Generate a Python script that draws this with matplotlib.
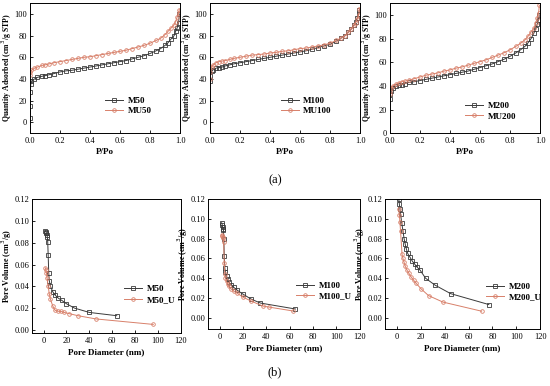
import matplotlib.pyplot as plt

plt.rcParams['font.family'] = ['Liberation Serif', 'DejaVu Serif']

# --- isotherms (P/Po vs quantity adsorbed) ---
p_m50 = [0.0005, 0.001, 0.002, 0.005, 0.01, 0.03, 0.05, 0.08, 0.1, 0.13, 0.16, 0.2, 0.24, 0.28,
         0.32, 0.36, 0.4, 0.44, 0.48, 0.52, 0.56, 0.6, 0.64, 0.68, 0.72, 0.76, 0.8, 0.84, 0.87,
         0.9, 0.92, 0.94, 0.96, 0.97, 0.98, 0.99, 0.995]
q_m50 = [4, 15, 28, 35, 38, 40, 41.5, 42.5, 43, 44, 45, 46.5, 47.5, 48, 49, 50, 51, 52, 53, 54,
         55, 56, 57, 58.5, 60, 61.5, 63.5, 66, 68, 71, 73.5, 77, 80, 84, 87, 92, 100]
p_mu50 = [0.0005, 0.002, 0.01, 0.03, 0.05, 0.08, 0.1, 0.13, 0.16, 0.2, 0.24, 0.28, 0.32, 0.36,
          0.4, 0.44, 0.48, 0.52, 0.56, 0.6, 0.64, 0.68, 0.72, 0.76, 0.8, 0.84, 0.87, 0.9, 0.92,
          0.94, 0.96, 0.97, 0.98, 0.99, 0.995]
q_mu50 = [44, 46, 48, 50, 51, 52.5, 53, 54, 55, 56, 57, 58, 59, 60, 60.5, 61.5, 62.5, 63.5, 64.5,
          65.5, 66.5, 68, 69.5, 71, 73, 75.5, 77.5, 81, 84, 87, 90, 93, 97, 101, 104]

p_m100 = [0.0005, 0.002, 0.01, 0.02, 0.04, 0.06, 0.08, 0.1, 0.13, 0.16, 0.2, 0.24, 0.28, 0.32,
          0.36, 0.4, 0.44, 0.48, 0.52, 0.56, 0.6, 0.64, 0.68, 0.72, 0.76, 0.8, 0.84, 0.87, 0.9,
          0.92, 0.94, 0.96, 0.97, 0.98, 0.99, 0.995]
q_m100 = [38, 43, 47, 48.5, 50, 50.5, 51, 52, 53, 54, 55, 56, 57, 58, 59, 60, 61, 62, 63, 64,
          65, 66, 67.5, 69, 70.5, 72, 75, 77.5, 80, 83, 86, 90, 93, 96, 100, 104]
p_mu100 = [0.0005, 0.002, 0.01, 0.02, 0.04, 0.06, 0.08, 0.1, 0.13, 0.16, 0.2, 0.24, 0.28, 0.32,
           0.36, 0.4, 0.44, 0.48, 0.52, 0.56, 0.6, 0.64, 0.68, 0.72, 0.76, 0.8, 0.84, 0.87, 0.9,
           0.92, 0.94, 0.96, 0.97, 0.98, 0.99, 0.995]
q_mu100 = [40, 46, 51, 53, 55, 56, 56.5, 57, 58, 59, 60, 61, 62, 62.5, 63, 64, 64.5, 65.5, 66,
           67, 68, 68.5, 69.5, 70.5, 71.5, 73, 75.5, 77.5, 80, 83, 86, 89.5, 92, 95, 99, 105]

p_m200 = [0.0005, 0.002, 0.01, 0.02, 0.04, 0.06, 0.08, 0.1, 0.13, 0.16, 0.2, 0.24, 0.28, 0.32,
          0.36, 0.4, 0.44, 0.48, 0.52, 0.56, 0.6, 0.64, 0.68, 0.72, 0.76, 0.8, 0.84, 0.87, 0.9,
          0.92, 0.94, 0.96, 0.97, 0.98, 0.99, 0.995]
q_m200 = [29, 33, 36, 38, 39.5, 40.5, 41, 42, 43, 43.5, 44.5, 45.5, 46.5, 47.5, 48.5, 49.5, 50.5,
          51.5, 52.5, 54, 55.5, 57, 58.5, 60.5, 62.5, 65, 68, 70.5, 73.5, 76.5, 80, 85, 88, 92,
          96, 100]
p_mu200 = [0.0005, 0.002, 0.01, 0.02, 0.04, 0.06, 0.08, 0.1, 0.13, 0.16, 0.2, 0.24, 0.28, 0.32,
           0.36, 0.4, 0.44, 0.48, 0.52, 0.56, 0.6, 0.64, 0.68, 0.72, 0.76, 0.8, 0.84, 0.87, 0.9,
           0.92, 0.94, 0.96, 0.97, 0.98, 0.99, 0.995]
q_mu200 = [33, 36, 38.5, 40, 41.5, 42.5, 43.5, 44, 45, 46, 47.5, 49, 50, 51, 52.5, 53.5, 55,
           56, 57.5, 59, 60.5, 62, 64, 66, 68, 70.5, 73.5, 76, 79, 82, 85.5, 89, 93, 97, 102, 108]

# --- pore size distributions (diameter nm vs pore volume) ---
d_m50 = [1.5, 2, 2.5, 3, 3.3, 3.6, 4, 4.5, 5, 6, 8, 10, 13, 16, 20, 27, 40, 64]
v_m50 = [0.091, 0.090, 0.089, 0.087, 0.085, 0.081, 0.069, 0.052, 0.045, 0.040, 0.035, 0.032,
         0.029, 0.027, 0.024, 0.020, 0.016, 0.013]
d_m50u = [1.5, 2, 2.5, 3, 4, 5, 6, 8, 10, 13, 15, 18, 22, 30, 46, 96]
v_m50u = [0.057, 0.055, 0.052, 0.048, 0.040, 0.033, 0.028, 0.022, 0.018, 0.017, 0.017, 0.016,
          0.015, 0.013, 0.010, 0.005]

d_m100 = [1.8, 2.2, 2.6, 3, 3.3, 3.6, 4, 4.5, 5, 6, 7, 8, 10, 12, 15, 20, 27, 35, 65]
v_m100 = [0.096, 0.094, 0.092, 0.090, 0.089, 0.080, 0.062, 0.050, 0.046, 0.042, 0.039, 0.036,
          0.033, 0.031, 0.028, 0.024, 0.019, 0.015, 0.009]
d_m100u = [1.8, 2.2, 2.6, 3, 3.5, 4, 4.5, 5, 6, 7, 8, 10, 12, 15, 20, 27, 37, 42, 63]
v_m100u = [0.084, 0.083, 0.082, 0.081, 0.076, 0.055, 0.044, 0.040, 0.037, 0.034, 0.032, 0.029,
           0.027, 0.025, 0.021, 0.017, 0.012, 0.011, 0.007]

d_m200 = [1.5, 2, 2.5, 3, 4, 5, 6, 7, 8, 9, 11, 13, 15, 17, 19.5, 24, 32, 45, 77]
v_m200 = [0.12, 0.115, 0.110, 0.105, 0.096, 0.088, 0.080, 0.074, 0.069, 0.065, 0.061, 0.057,
          0.054, 0.051, 0.048, 0.040, 0.033, 0.0245, 0.0135]
d_m200u = [1.5, 2, 2.5, 3, 4.3, 5, 6, 7, 8.5, 10, 12, 14, 16, 20.5, 26.5, 38.5, 71]
v_m200u = [0.110, 0.104, 0.097, 0.088, 0.064, 0.060, 0.056, 0.052, 0.048, 0.045, 0.041, 0.038,
           0.035, 0.029, 0.0225, 0.016, 0.0068]

BLK = '#3a3a3a'
RED = '#d8806a'

fig = plt.figure(figsize=(5.5, 3.86), dpi=100)


def style_axes(ax, xlabel, ylabel, legend_xy, ylab_x, ylab_size):
    ax.set_xlabel(xlabel, fontsize=6.5, fontweight='bold', labelpad=2)
    ax.set_ylabel(ylabel, fontsize=ylab_size, fontweight='bold')
    ax.yaxis.set_label_coords(ylab_x, 0.5)
    ax.tick_params(direction='in', labelsize=6, length=2.5, width=0.6, pad=2)
    ax.tick_params(axis='x', pad=3)
    for s in ax.spines.values():
        s.set_linewidth(0.7)
    ax.legend(loc='center left', bbox_to_anchor=legend_xy, frameon=False,
              prop={'weight': 'bold', 'size': 6.5}, handlelength=2.0, labelspacing=0.25,
              borderpad=0, borderaxespad=0, handletextpad=0.5)


top = [
    ([0.0545, 0.655, 0.273, 0.337], p_m50, q_m50, p_mu50, q_mu50, 'M50', 'MU50', (-10, 110), (0.5, 0.21)),
    ([0.382, 0.655, 0.273, 0.337], p_m100, q_m100, p_mu100, q_mu100, 'M100', 'MU100', (-10, 110), (0.47, 0.21)),
    ([0.709, 0.655, 0.273, 0.337], p_m200, q_m200, p_mu200, q_mu200, 'M200', 'MU200', (0, 110), (0.5, 0.17)),
]
for rect, x1, y1, x2, y2, l1, l2, ylim, lxy in top:
    ax = fig.add_axes(rect)
    ax.plot(x1, y1, '-s', color=BLK, mfc='none', ms=2.6, mew=0.6, lw=0.7, label=l1)
    ax.plot(x2, y2, '-o', color=RED, mfc='none', ms=2.6, mew=0.6, lw=0.7, label=l2)
    ax.set_xlim(0, 1.0)
    ax.set_ylim(*ylim)
    ax.set_xticks([0, 0.2, 0.4, 0.6, 0.8, 1.0])
    ax.set_yticks([0, 20, 40, 60, 80, 100])
    style_axes(ax, 'P/Po', 'Quantity Adsorbed (cm$^3$/g STP)', lxy, -0.108, 5.6)

bottom = [
    ([0.0585, 0.137, 0.27, 0.347], d_m50, v_m50, d_m50u, v_m50u, 'M50', 'M50_U', (-0.003, 0.12), (0.62, 0.29), -0.12),
    ([0.378, 0.148, 0.276, 0.337], d_m100, v_m100, d_m100u, v_m100u, 'M100', 'M100_U', (-0.011, 0.12), (0.58, 0.29), -0.118),
    ([0.700, 0.148, 0.282, 0.337], d_m200, v_m200, d_m200u, v_m200u, 'M200', 'M200_U', (-0.011, 0.12), (0.65, 0.285), -0.113),
]
for rect, x1, y1, x2, y2, l1, l2, ylim, lxy, ylx in bottom:
    ax = fig.add_axes(rect)
    ax.plot(x1, y1, '-s', color=BLK, mfc='none', ms=2.6, mew=0.6, lw=0.7, label=l1)
    ax.plot(x2, y2, '-o', color=RED, mfc='none', ms=2.6, mew=0.6, lw=0.7, label=l2)
    ax.set_xlim(-10, 120)
    ax.set_ylim(*ylim)
    ax.set_xticks([0, 20, 40, 60, 80, 100, 120])
    ax.set_yticks([0, 0.02, 0.04, 0.06, 0.08, 0.10, 0.12])
    ax.set_yticklabels(['0.00', '0.02', '0.04', '0.06', '0.08', '0.10', '0.12'])
    style_axes(ax, 'Pore Diameter (nm)', 'Pore Volume (cm$^3$/g)', lxy, ylx, 5.8)

fig.text(0.5, 0.534, '(a)', ha='center', va='center', fontsize=9)
fig.text(0.5, 0.036, '(b)', ha='center', va='center', fontsize=9)

fig.savefig('out.png', dpi=100)
